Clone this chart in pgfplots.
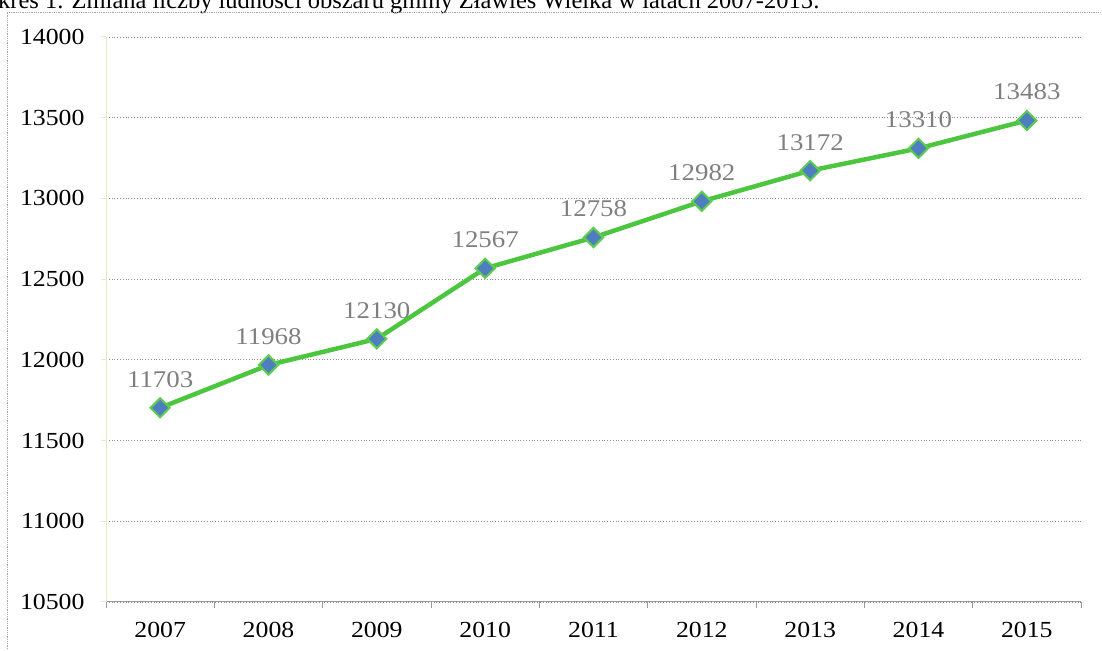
\documentclass[border=0pt]{standalone}
\usepackage{pgfplots}
\pgfplotsset{compat=1.18}
\usepackage{fontspec}
\setmainfont{Liberation Serif}
\newfontfamily\tnr[FakeStretch=1.12]{Liberation Serif}
\definecolor{lgreen}{HTML}{4CC63E}
\definecolor{mblue}{HTML}{4F7EC0}
\definecolor{lblgray}{HTML}{7F7F7F}
\definecolor{ylaxis}{HTML}{E6EBC8}
\begin{document}
\begin{tikzpicture}[x=1pt,y=1pt]
\useasboundingbox (0,0) rectangle (1102,650);
\clip (0,0) rectangle (1102,650);
\node[anchor=base west, inner sep=0pt, font=\fontsize{24.5}{28}\selectfont] at (-2,641) {kres 1. Zmiana liczby ludności obszaru gminy Zławieś Wielka w latach 2007-2015:};
\draw[gray!70, densely dotted, line width=0.8pt] (7,1) -- (7,638) -- (1110,638);
\begin{axis}[
  at={(106pt,48pt)}, anchor=south west,
  width=975pt, height=565pt, scale only axis,
  xmin=-0.5, xmax=8.5, ymin=10500, ymax=14000,
  xtick={0,...,8},
  xticklabels={2007,2008,2009,2010,2011,2012,2013,2014,2015},
  minor xtick={-0.5,0.5,...,8.5},
  ytick={10500,11000,...,14000},
  scaled y ticks=false,
  axis x line*=bottom, axis y line*=left,
  x axis line style={gray!80, line width=1pt},
  y axis line style={ylaxis, line width=1pt},
  major x tick style={draw=none},
  minor x tick style={gray!80, line width=1pt},
  minor tick length=6pt,
  xtick align=outside,
  ytick style={ylaxis, line width=1pt},
  ytick align=outside, major tick length=5pt,
  ymajorgrids,
  grid style={gray!90, dotted, line width=0.8pt},
  y grid style={gray!90, dotted, line width=0.8pt},
  /pgf/number format/assume math mode=true,
  /pgf/number format/1000 sep={},
  /pgf/number format/fixed,
  ticklabel style={font=\tnr\fontsize{23}{26}\selectfont, text=black},
  xticklabel style={yshift=-12pt},
  yticklabel style={xshift=-13pt},
  clip=false,
  nodes near coords,
  every node near coord/.append style={font=\tnr\fontsize{24}{27}\selectfont, text=lblgray, yshift=16pt},
  point meta=explicit symbolic,
]
\addplot[lgreen, line width=4.5pt, mark=square*, mark size=6.8pt,
  mark options={rotate=45, fill=mblue, draw=lgreen!90!white, line width=2pt}]
  table[meta=l] {
x y l
0 11703 11703
1 11968 11968
2 12130 12130
3 12567 12567
4 12758 12758
5 12982 12982
6 13172 13172
7 13310 13310
8 13483 13483
};
\end{axis}
\end{tikzpicture}
\end{document}
